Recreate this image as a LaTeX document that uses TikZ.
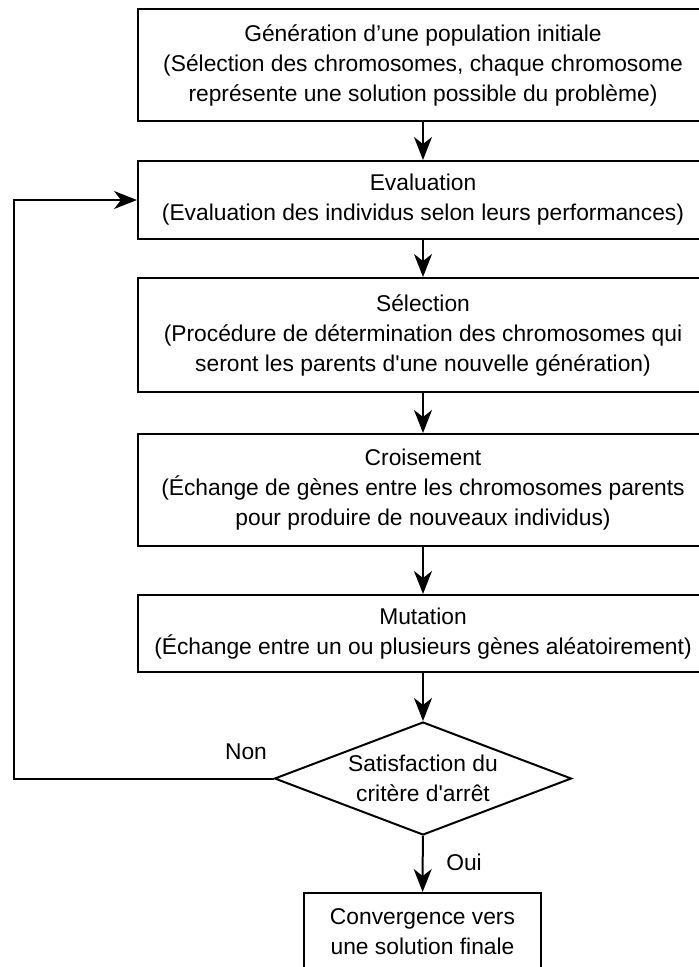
\documentclass[tikz,border=0pt]{standalone}
\usepackage{fontspec}
\setmainfont{Liberation Sans}
\usepackage{tikz}
\usetikzlibrary{arrows.meta, positioning, shapes.geometric}

\begin{document}
\begin{tikzpicture}[
    x=1pt, y=-1pt,
    box/.style={draw, line width=2pt, minimum width=570pt, align=center,
      inner sep=0pt, font=\fontsize{22.8}{30}\selectfont},
    test/.style={draw, diamond, line width=2pt, aspect=2.63, inner sep=0pt,
      minimum width=297pt, minimum height=113pt, align=center,
      font=\fontsize{22.8}{30}\selectfont},
    lbl/.style={font=\fontsize{22.8}{30}\selectfont},
    arr/.style={-{Stealth[length=23pt, width=18pt, inset=7pt]}, line width=2pt},
  ]
    \useasboundingbox (0,0) rectangle (699,967);

    \node[box, minimum height=112pt] (init) at (423, 65)
      {Génération d’une population initiale\\(Sélection des chromosomes, chaque chromosome\\représente une solution possible du problème)};
    \node[box, minimum height=78pt] (eval) at (423, 200)
      {Evaluation\\(Evaluation des individus selon leurs performances)};
    \node[box, minimum height=114pt] (sel) at (423, 335)
      {Sélection\\(Procédure de détermination des chromosomes qui\\seront les parents d\textquotesingle une nouvelle génération)};
    \node[box, minimum height=112pt] (cross) at (423, 490)
      {Croisement\\(Échange de gènes entre les chromosomes parents\\pour produire de nouveaux individus)};
    \node[box, minimum height=77pt] (mut) at (423, 633.5)
      {Mutation\\(Échange entre un ou plusieurs gènes aléatoirement)};
    \node[test] (stop) at (423, 778.5) {Satisfaction du\\critère d\textquotesingle arrêt};
    \node[box, minimum width=237pt, minimum height=78pt] (final) at (422.5, 932)
      {Convergence vers\\une solution finale};

    \node[lbl] (non) at (246, 752) {Non};
    \node[lbl] (oui) at (464, 862) {Oui};

    \coordinate (back) at (14, 778.5);

    \draw[arr] (init) -- (eval);
    \draw[arr] (eval) -- (sel);
    \draw[arr] (sel) -- (cross);
    \draw[arr] (cross) -- (mut);
    \draw[arr] (mut) -- (stop);
    \draw[arr] (stop) -- (final);
    \draw[arr] (stop.west) -- (back) |- (eval.west);
  \end{tikzpicture}
\end{document}
